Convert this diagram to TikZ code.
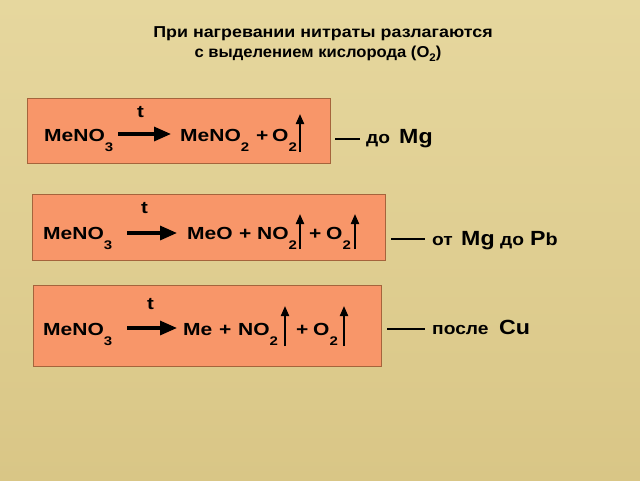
\documentclass[tikz,border=0pt]{standalone}
\usepackage{fontspec}
\setmainfont{Liberation Sans}[FakeStretch=1.13]
\newfontfamily\chemfont{Liberation Sans}[FakeStretch=1.2]
\usetikzlibrary{arrows.meta}
\definecolor{bgtop}{RGB}{230,215,158}
\definecolor{bgbot}{RGB}{217,198,134}
\definecolor{boxfill}{RGB}{248,150,105}
\definecolor{boxline}{RGB}{165,100,60}
\newcommand\chsub[1]{\raisebox{-10pt}{\fontsize{12.5}{14}\selectfont #1}}
\begin{document}
\begin{tikzpicture}[x=1pt,y=-1pt,
  box/.style={draw=boxline, line width=0.8pt, fill=boxfill, anchor=north west, inner sep=0pt},
  chem/.style={anchor=base west, inner sep=0pt, font=\chemfont\fontsize{17.5}{20}\selectfont\bfseries},
  tlab/.style={anchor=base west, inner sep=0pt, font=\chemfont\fontsize{17}{20}\selectfont\bfseries},
  lab/.style={anchor=base west, inner sep=0pt, font=\fontsize{17}{20}\selectfont\bfseries},
  big/.style={anchor=base west, inner sep=0pt, font=\fontsize{20.5}{24}\selectfont\bfseries},
  ttl/.style={anchor=base, inner sep=0pt, font=\fontsize{15.8}{18}\selectfont\bfseries},
  rxn/.style={line width=3.2pt, -{Triangle[length=17pt,width=14pt]}},
  gas/.style={line width=2pt, -{Triangle[length=10pt,width=8pt]}},
  dashline/.style={line width=1.8pt}
]
\useasboundingbox (0,0) rectangle (640,480);
\shade[top color=bgtop, bottom color=bgbot] (0,0) rectangle (640,480);

% title
\node[ttl] (t1) at (323,37) {При нагревании нитраты разлагаются};
\node[ttl] (t2) at (318,57) {\scalebox{0.93}[1]{с выделением кислорода (O\raisebox{-4pt}{\fontsize{11}{11}\selectfont 2})}};

% box 1
\node[box, minimum width=303pt, minimum height=65pt] (b1) at (27,98) {};
\node[chem] (r1) at (44,141) {MeNO\chsub{3}};
\node[tlab] (h1) at (137,117) {t};
\coordinate (a1s) at (118,134);
\coordinate (a1e) at (171,134);
\draw[rxn] (a1s) -- (a1e);
\node[chem] (p1a) at (180,141) {MeNO\chsub{2}};
\node[chem] (p1b) at (256,141) {+};
\node[chem] (p1c) at (272,141) {O\chsub{2}};
\coordinate (g1s) at (300,152);
\coordinate (g1e) at (300,114);
\draw[gas] (g1s) -- (g1e);

% box 2
\node[box, minimum width=353pt, minimum height=66pt] (b2) at (32,194) {};
\node[chem] (r2) at (43,239) {MeNO\chsub{3}};
\node[tlab] (h2) at (141,213) {t};
\coordinate (a2s) at (127,233);
\coordinate (a2e) at (177,233);
\draw[rxn] (a2s) -- (a2e);
\node[chem] (p2a) at (187,239) {MeO};
\node[chem] (p2b) at (239,239) {+};
\node[chem] (p2c) at (257,239) {NO\chsub{2}};
\coordinate (g2s) at (300,249);
\coordinate (g2e) at (300,214);
\draw[gas] (g2s) -- (g2e);
\node[chem] (p2d) at (309,239) {+};
\node[chem] (p2e) at (326,239) {O\chsub{2}};
\coordinate (g3s) at (355,249);
\coordinate (g3e) at (355,214);
\draw[gas] (g3s) -- (g3e);

% box 3
\node[box, minimum width=348pt, minimum height=81pt] (b3) at (33,285) {};
\node[chem] (r3) at (43,335) {MeNO\chsub{3}};
\node[tlab] (h3) at (147,309) {t};
\coordinate (a3s) at (127,328);
\coordinate (a3e) at (177,328);
\draw[rxn] (a3s) -- (a3e);
\node[chem] (p3a) at (183,335) {Me};
\node[chem] (p3b) at (219,335) {+};
\node[chem] (p3c) at (238,335) {NO\chsub{2}};
\coordinate (g4s) at (285,346);
\coordinate (g4e) at (285,306);
\draw[gas] (g4s) -- (g4e);
\node[chem] (p3d) at (296,335) {+};
\node[chem] (p3e) at (313,335) {O\chsub{2}};
\coordinate (g5s) at (344,346);
\coordinate (g5e) at (344,306);
\draw[gas] (g5s) -- (g5e);

% right labels
\coordinate (d1s) at (335,139);
\coordinate (d1e) at (360,139);
\draw[dashline] (d1s) -- (d1e);
\node[lab] (l1a) at (366,143) {до};
\node[big] (l1b) at (399,143) {Mg};

\coordinate (d2s) at (391,239);
\coordinate (d2e) at (425,239);
\draw[dashline] (d2s) -- (d2e);
\node[lab] (l2a) at (432,245) {от};
\node[big] (l2b) at (461,245) {Mg};
\node[lab] (l2c) at (500,245) {до};
\node[big] (l2d) at (530,245) {P\fontsize{17.5}{20}\selectfont b};

\coordinate (d3s) at (387,329);
\coordinate (d3e) at (425,329);
\draw[dashline] (d3s) -- (d3e);
\node[lab] (l3a) at (432,334) {после};
\node[big] (l3b) at (499,334) {Cu};
\end{tikzpicture}
\end{document}
